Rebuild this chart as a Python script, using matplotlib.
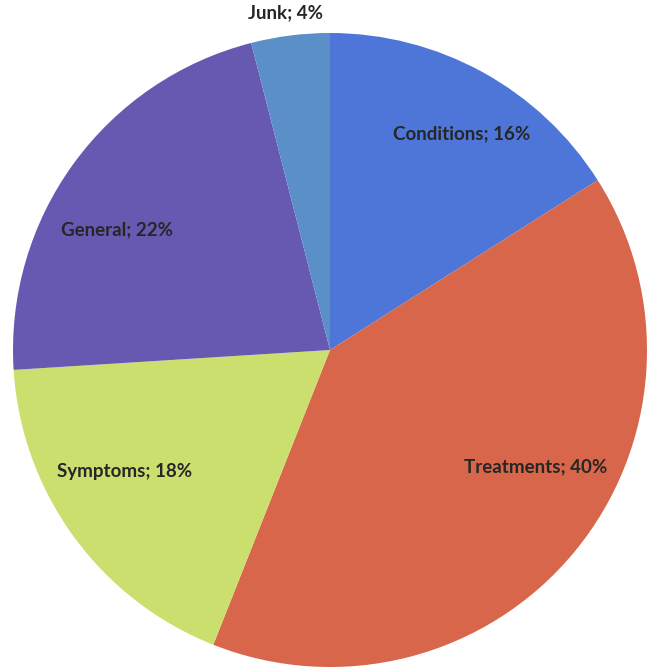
import matplotlib.pyplot as plt

categories = ["Conditions", "Treatments", "Symptoms", "General", "Junk"]
shares = [16, 40, 18, 22, 4]
colors = ["#4e76d9", "#d7664a", "#cbdf6e", "#6759b2", "#5a8fc8"]

# label anchors, in pixels relative to the pie centre (x right, y up)
label_xy = [(132, 216), (206, -117), (-205, -122), (-213, 120), (-45, 337)]

CX, CY, R = 330, 350, 317
W, H = 649, 668

fig = plt.figure(figsize=(W / 100, H / 100), dpi=100)
ax = fig.add_axes([0, 0, 1, 1])

ax.pie(shares, colors=colors, radius=R, startangle=90, counterclock=False,
       wedgeprops=dict(linewidth=0))

# pie() resets the limits, so set the pixel-sized view afterwards
ax.set_xlim(-CX, W - CX)
ax.set_ylim(-(H - CY), CY)
ax.set_aspect("equal")
ax.axis("off")

for name, val, (x, y) in zip(categories, shares, label_xy):
    ax.text(x, y, f"{name}; {val}%", ha="center", va="center",
            fontsize=13.5, family="Lato", weight="bold", color="#262626")

fig.savefig("out.png", dpi=100)
